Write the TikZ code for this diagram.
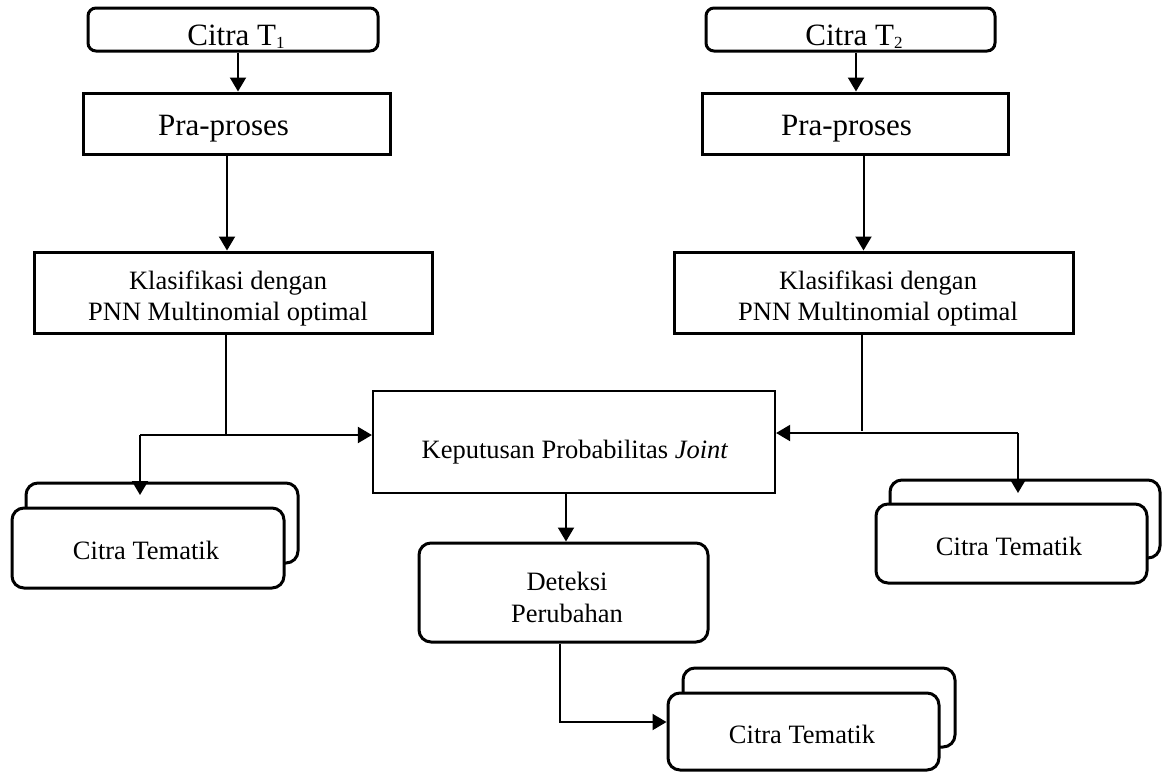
\documentclass[tikz,border=0pt]{standalone}
\usepackage{fontspec}
\setmainfont{Liberation Serif}
\usetikzlibrary{arrows.meta,calc}
\begin{document}
\begin{tikzpicture}[x=1pt,y=-1pt,
  bx/.style={draw, line width=3pt, fill=white, inner sep=0pt},
  rbx/.style={bx, rounded corners=12pt},
  txt/.style={anchor=base, inner sep=0pt, align=center},
  big/.style={txt, font=\fontsize{31}{31}\selectfont},
  mid/.style={txt, font=\fontsize{26.5}{31}\selectfont},
  conn/.style={line width=2pt},
  arr/.style={conn, -{Triangle[length=14pt,width=16pt]}}
]
\useasboundingbox (0,0) rectangle (1164,771);

% top row
\node[bx, rounded corners=8pt, minimum width=290pt, minimum height=43pt] (t1) at (233,29.5) {};
\node[big] (t1txt) at (236,45) {Citra T\raisebox{-3pt}{\fontsize{17}{17}\selectfont 1}};
\node[bx, rounded corners=8pt, minimum width=289pt, minimum height=43pt] (t2) at (850.5,29.5) {};
\node[big] (t2txt) at (854,45) {Citra T\raisebox{-3pt}{\fontsize{17}{17}\selectfont 2}};

\node[bx, minimum width=307pt, minimum height=61pt] (p1) at (236.5,123.5) {};
\node[big] (p1txt) at (223.5,135) {Pra-proses};
\node[bx, minimum width=306pt, minimum height=61pt] (p2) at (855,123.5) {};
\node[big] (p2txt) at (846.5,135) {Pra-proses};

\node[bx, minimum width=398pt, minimum height=81pt] (k1) at (233,292.5) {};
\node[mid] (k1txt) at (228,320) {Klasifikasi dengan\\PNN Multinomial optimal};
\node[bx, minimum width=399pt, minimum height=81pt] (k2) at (873.5,292.5) {};
\node[mid] (k2txt) at (878,320) {Klasifikasi dengan\\PNN Multinomial optimal};

\node[bx, line width=2.2pt, minimum width=402pt, minimum height=102pt] (joint) at (574,442) {};
\node[mid] (jtxt) at (575,458) {Keputusan Probabilitas \textit{Joint}};

\node[rbx, minimum width=289pt, minimum height=99pt] (det) at (563.5,592.5) {};
\node[txt, font=\fontsize{26.5}{32}\selectfont] (dtxt) at (567,622) {Deteksi\\Perubahan};

% stacked thematic images
\node[rbx, minimum width=272pt, minimum height=80pt] (ct1b) at (162,523) {};
\node[rbx, minimum width=272pt, minimum height=80pt] (ct1) at (148,548) {};
\node[mid] (ct1txt) at (146,559) {Citra Tematik};
\node[rbx, minimum width=270pt, minimum height=78pt] (ct2b) at (1025,519) {};
\node[rbx, minimum width=271pt, minimum height=79pt] (ct2) at (1011.5,543.5) {};
\node[mid] (ct2txt) at (1009,555) {Citra Tematik};
\node[rbx, minimum width=272pt, minimum height=79pt] (ct3b) at (819,707.5) {};
\node[rbx, minimum width=271pt, minimum height=77pt] (ct3) at (803.5,731.5) {};
\node[mid] (ct3txt) at (802,743) {Citra Tematik};

% connectors
\draw[arr] ([xshift=5pt]t1.south) -- ([xshift=5pt]t1.south |- p1.north);
\draw[arr] ([xshift=-9.5pt]p1.south) -- ([xshift=-9.5pt]p1.south |- k1.north);
\draw[arr] ([xshift=5.5pt]t2.south) -- ([xshift=5.5pt]t2.south |- p2.north);
\draw[arr] ([xshift=8.5pt]p2.south) -- ([xshift=8.5pt]p2.south |- k2.north);

\coordinate (m1) at (140,435);
\coordinate (a1) at (140,495);
\draw[conn] ([xshift=-7pt]k1.south) -- ([xshift=-7pt]k1.south |- m1);
\draw[arr] (m1) -- (m1 -| joint.west);
\draw[arr] (m1) -- (a1);

\coordinate (m2) at (1018,433);
\coordinate (a2) at (1018,493);
\draw[conn] ([xshift=-11.5pt]k2.south) -- ([xshift=-11.5pt,yshift=2pt]k2.south |- m2);
\draw[arr] (m2) -- (m2 -| joint.east);
\draw[arr] (m2) -- (a2);

\draw[arr] ([xshift=-8pt]joint.south) -- ([xshift=-8pt]joint.south |- det.north);

\coordinate (m3) at (560,722);
\draw[arr] ([xshift=-3.5pt]det.south) |- (m3 -| ct3.west);
\end{tikzpicture}
\end{document}
